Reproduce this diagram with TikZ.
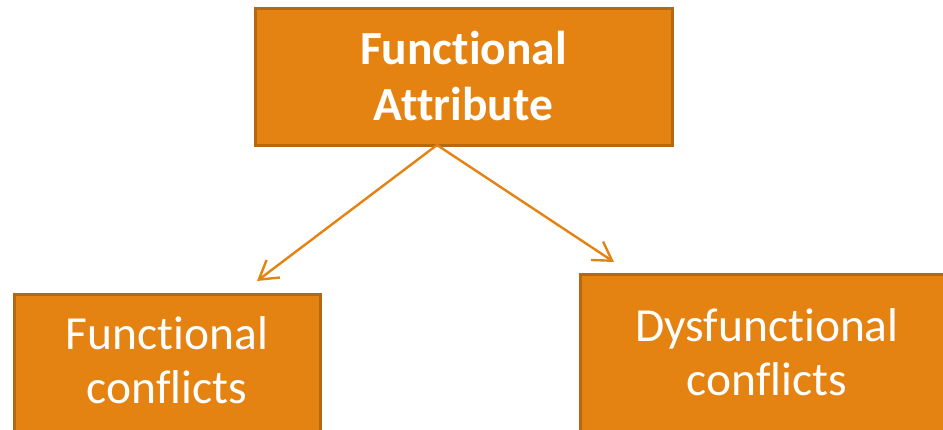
\documentclass[tikz,border=0pt]{standalone}
\usepackage{fontspec}
\setmainfont{Carlito}[Ligatures={NoCommon,NoContextual},RawFeature=-calt]
\usetikzlibrary{arrows.meta}
\definecolor{boxorange}{RGB}{228,131,18}
\definecolor{boxedge}{RGB}{180,104,16}

\begin{document}
\begin{tikzpicture}[x=1pt,y=-1pt,
  box/.style={draw=boxedge,line width=3pt,fill=boxorange,text=white,
    align=center,inner sep=0pt,font=\fontsize{47.5}{54}\selectfont},
  link/.style={draw=boxorange,line width=2.4pt,
    -{Straight Barb[length=18pt,width=22pt,line width=2.4pt]}}]
\useasboundingbox (0,0) rectangle (943,429);
\clip (0,0) rectangle (943,429);

\node[box,minimum width=417pt,minimum height=137pt,
  font=\bfseries\fontsize{47.5}{56}\selectfont] (attr) at (463.5,76.5) {Functional\\Attribute};
\node[box,anchor=north,minimum width=306pt,minimum height=170pt,text depth=38pt] (func) at (167,293) {Functional\\conflicts};
\node[box,anchor=north,minimum width=374pt,minimum height=170pt,text depth=14pt] (dysf) at (767,273) {Dysfunctional\\conflicts};

\coordinate (fork) at (437,145);
\coordinate (ftip) at (257,281);
\coordinate (dtip) at (614,262);

\draw[link] (fork) -- (ftip);
\draw[link] (fork) -- (dtip);

\end{tikzpicture}
\end{document}
